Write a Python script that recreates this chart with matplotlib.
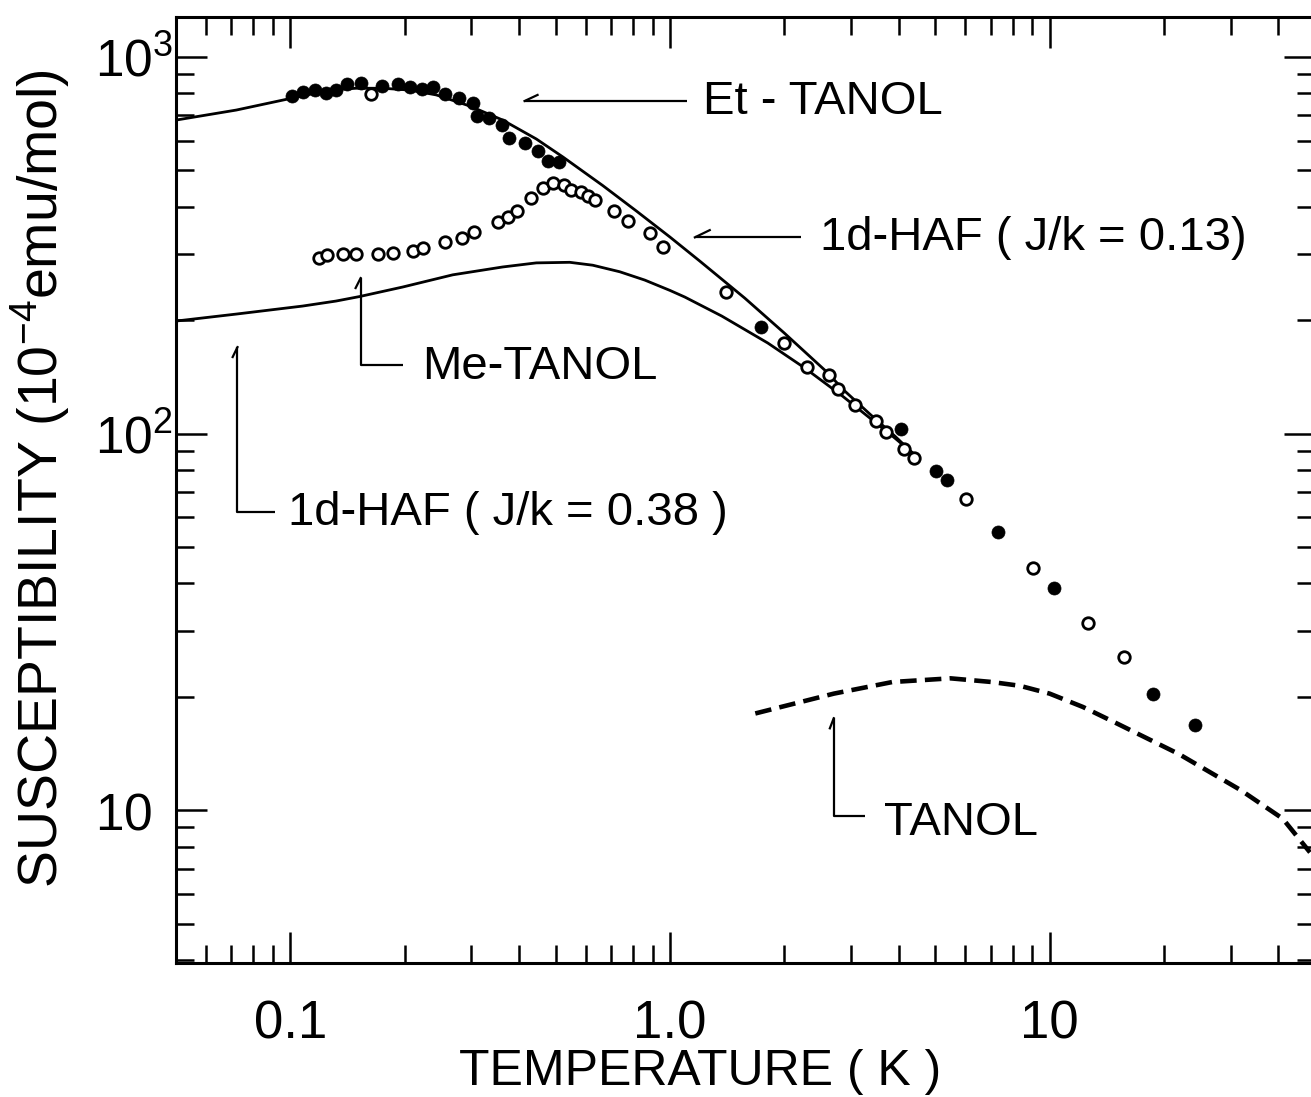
import matplotlib
matplotlib.use('Agg')
import matplotlib.pyplot as plt
from matplotlib import font_manager
from matplotlib.ticker import FixedLocator, LogLocator, NullFormatter

# ---- data ----
# Et-TANOL (filled circles)
et_t = [0.101, 0.108, 0.116, 0.124, 0.132, 0.141, 0.154, 0.174, 0.192, 0.207,
        0.222, 0.237, 0.255, 0.278, 0.302, 0.311, 0.333, 0.360, 0.376, 0.414,
        0.448, 0.476, 0.509, 1.742, 4.07, 5.02, 5.36, 7.29, 10.26, 18.7, 24.1]
et_chi = [788, 809, 817, 804, 817, 848, 855, 838, 846, 831,
          821, 834, 797, 780, 755, 697, 690, 660, 609, 591,
          563, 529, 527, 192, 102.6, 79.5, 75.2, 54.8, 38.9, 20.3, 16.8]

# Me-TANOL (open circles)
me_t = [0.163, 0.1187, 0.1252, 0.1376, 0.149, 0.170, 0.186, 0.210, 0.2236, 0.255,
        0.284, 0.305, 0.352, 0.3745, 0.3955, 0.4297, 0.463, 0.492, 0.526, 0.550,
        0.582, 0.608, 0.634, 0.712, 0.775, 0.888, 0.959, 1.406, 2.001, 2.299,
        2.62, 2.777, 3.069, 3.484, 3.703, 4.13, 4.39, 6.02, 9.03, 12.59, 15.67]
me_chi = [797, 292, 298, 299, 299, 299, 301, 306, 312, 323,
          330, 342, 365, 376, 390, 421, 448, 462, 457, 443,
          439, 428, 417, 391, 367, 340, 313, 238, 174, 150,
          143, 131, 119, 108, 101, 91.3, 85.9, 67.0, 43.9, 31.4, 25.5]

# 1d-HAF, J/k = 0.13
haf13_t = [0.05, 0.0721, 0.1037, 0.127, 0.149, 0.1754, 0.206, 0.2424, 0.297, 0.3626,
           0.4447, 0.5228, 0.665, 0.816, 1.0, 1.198, 1.574, 2.0, 2.573, 2.888,
           3.361, 3.912, 4.416]
haf13_chi = [680, 723, 782, 817, 826, 826, 817, 793, 741, 680,
             605.7, 542.4, 455.8, 389.9, 332.6, 287.2, 229, 185, 146.6, 129.7,
             112.7, 98.5, 87.7]

# 1d-HAF, J/k = 0.38
haf38_t = [0.05, 0.0721, 0.1077, 0.132, 0.1523, 0.1976, 0.2678, 0.3626, 0.4447, 0.5445,
           0.626, 0.7375, 0.858, 1.0, 1.094, 1.369, 1.81, 2.266, 2.847, 3.361,
           3.912, 4.416]
haf38_chi = [199, 207.7, 218.1, 224.9, 231.2, 245, 264, 277, 284, 285,
             280, 269, 255.7, 240, 230.5, 205.2, 174, 149.3, 125.8, 110,
             97.3, 87.7]

# TANOL (dashed)
tanol_t = [1.678, 2.702, 3.853, 5.48, 7.05, 8.35, 10.0, 12.24, 15.0, 21.9,
           31.9, 41.1, 48.5]
tanol_chi = [18.07, 20.4, 21.9, 22.4, 21.9, 21.4, 20.4, 18.8, 17.02, 14.1,
             11.3, 9.5, 7.73]

x_major = [0.1, 1.0, 10.0]
x_labels = ['0.1', '1.0', '10']
y_major = [10, 100, 1000]

names = {f.name for f in font_manager.fontManager.ttflist}
NARROW = 'Liberation Sans Narrow' if 'Liberation Sans Narrow' in names else 'Liberation Sans'

plt.rcParams['font.family'] = [NARROW, 'DejaVu Sans']
plt.rcParams['mathtext.fontset'] = 'custom'
plt.rcParams['mathtext.rm'] = 'Liberation Sans'
plt.rcParams['mathtext.sf'] = NARROW
plt.rcParams['mathtext.default'] = 'rm'


def leader(ax, pts, barb):
    """Draw an annotation leader line with a half arrow head at pts[0]."""
    xs, ys = zip(*pts)
    ax.plot(xs, ys, color='black', lw=1.6, solid_capstyle='butt', clip_on=False)
    ax.plot([pts[0][0], barb[0]], [pts[0][1], barb[1]], color='black', lw=1.6)


def main():
    fig = plt.figure(figsize=(13.11, 10.97), dpi=100)
    ax = fig.add_axes([176 / 1311, 134 / 1097, 1139 / 1311, 946 / 1097])
    ax.set_xscale('log')
    ax.set_yscale('log')
    ax.set_xlim(0.05, 50)
    ax.set_ylim(3.93, 1277)

    ax.plot(haf13_t, haf13_chi, color='black', lw=2.0)
    ax.plot(haf38_t, haf38_chi, color='black', lw=2.0)
    ax.plot(tanol_t, tanol_chi, color='black', lw=3.3, dashes=(3.6, 1.8))
    ax.plot(et_t, et_chi, 'o', color='black', ms=9.4, mec='black', mew=0.5)
    ax.plot(me_t, me_chi, 'o', mfc='white', mec='black', ms=8.3, mew=2.0)

    # annotations
    fs = 34
    ax.text(1.22, 760, 'Et - TANOL', fontsize=fs, ha='left', va='center')
    leader(ax, [(0.414, 764), (1.107, 764)], (0.448, 793))

    ax.text(2.48, 330, '1d-HAF ( J/k = 0.13)', fontsize=fs, ha='left', va='center')
    leader(ax, [(1.163, 332), (2.21, 332)], (1.273, 347))

    ax.text(0.222, 150, 'Me-TANOL', fontsize=fs, ha='left', va='center')
    leader(ax, [(0.1532, 258.8), (0.1532, 152), (0.1976, 152)], (0.1486, 243.5))

    ax.text(0.0984, 61.5, '1d-HAF ( J/k = 0.38 )', fontsize=fs, ha='left', va='center')
    leader(ax, [(0.0726, 169.7), (0.0726, 61.9), (0.0909, 61.9)], (0.0705, 159.7))

    ax.text(3.66, 9.24, 'TANOL', fontsize=fs, ha='left', va='center')
    leader(ax, [(2.70, 17.55), (2.70, 9.64), (3.26, 9.64)], (2.637, 16.5))

    # axes and ticks
    for side in ax.spines.values():
        side.set_linewidth(2.2)
    ax.xaxis.set_major_locator(FixedLocator(x_major))
    ax.xaxis.set_minor_locator(LogLocator(base=10, subs=range(2, 10), numticks=20))
    ax.xaxis.set_minor_formatter(NullFormatter())
    ax.set_xticklabels(x_labels)
    ax.yaxis.set_major_locator(FixedLocator(y_major))
    ax.yaxis.set_minor_locator(LogLocator(base=10, subs=range(2, 10), numticks=20))
    ax.yaxis.set_minor_formatter(NullFormatter())
    ax.set_yticklabels([r'$\mathsf{10}$', r'$\mathsf{10^2}$', r'$\mathsf{10^3}$'])

    ax.tick_params(which='both', direction='in', top=True, right=True, width=1.8)
    ax.tick_params(which='major', length=22)
    ax.tick_params(which='minor', length=13)
    ax.tick_params(axis='x', which='major', labelsize=38, pad=26)
    ax.tick_params(axis='y', which='major', labelsize=37, pad=58)
    for lab in ax.get_yticklabels():
        lab.set_horizontalalignment('left')

    fig.text(700 / 1311, 1 - 1072 / 1097, 'TEMPERATURE ( K )', fontsize=36,
             ha='center', va='center')
    fig.text(40 / 1311, 1 - 479 / 1097, r'SUSCEPTIBILITY (10$^{-4}$emu/mol)',
             fontsize=40, family='Liberation Sans', rotation=90,
             ha='center', va='center')

    fig.savefig('out.png', dpi=100)


if __name__ == '__main__':
    main()
